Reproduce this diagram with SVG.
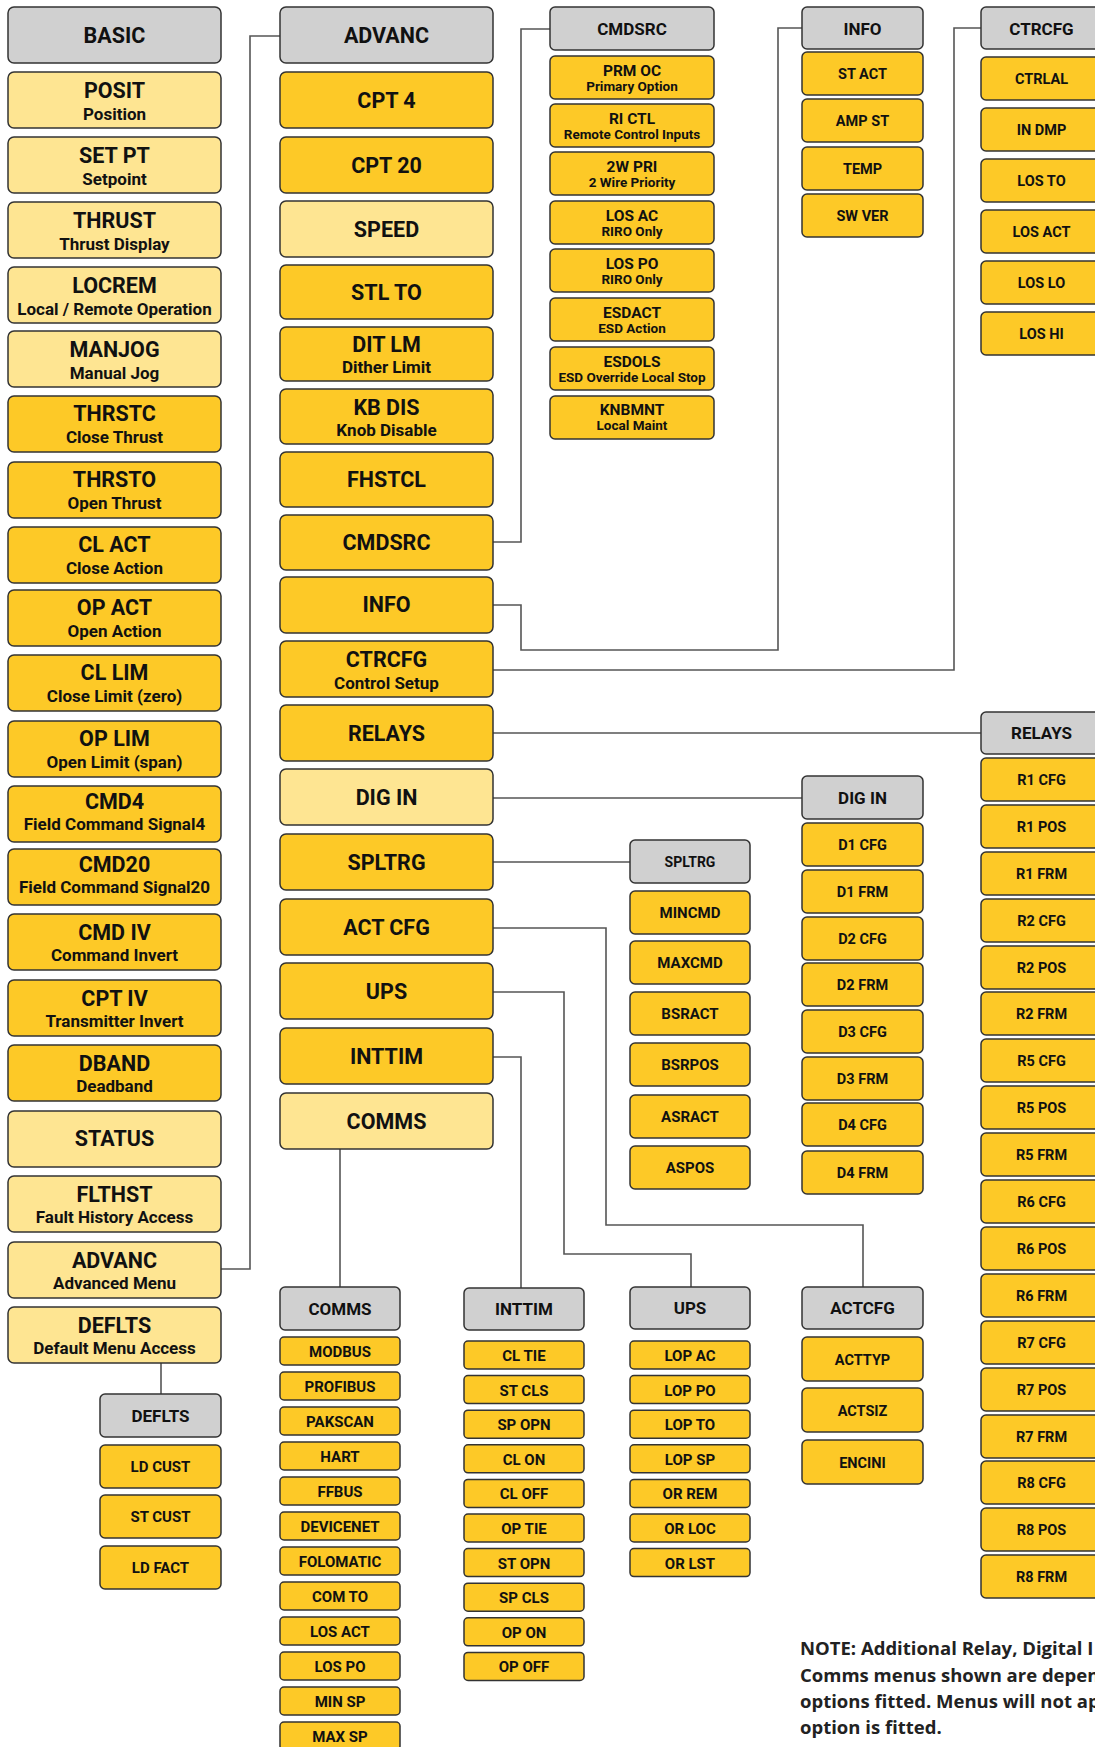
<svg xmlns="http://www.w3.org/2000/svg" width="1095" height="1747" viewBox="0 0 1095 1747">
<style>
rect{stroke:#333;stroke-width:1.5}
.g{fill:#d0d0d0}.d{fill:#fdc927}.l{fill:#fee592}
text{font-family:Roboto,"Liberation Sans",sans-serif;font-weight:bold;fill:#111;text-anchor:middle}
.m{font-size:21.5px}.s{font-size:17px}.h{font-size:17px}.i{font-size:14.5px}.c{font-size:15px}.p{font-size:15.5px}.q{font-size:13.5px}.k{font-size:14px}
.note{font-family:"Open Sans",Roboto,sans-serif;font-size:18.5px;text-anchor:start;fill:#222}
#connectors path{fill:none;stroke:#555;stroke-width:1.6}
</style>
<g id="connectors">
<path d="M221,1269 H250 V36 H280"/>
<path d="M493,542 H521 V29 H550"/>
<path d="M493,605 H521 V650 H778 V28 H802"/>
<path d="M493,670 H954 V28 H981"/>
<path d="M493,733 H981"/>
<path d="M493,798 H802"/>
<path d="M493,862 H630"/>
<path d="M493,928 H606 V1225 H863 V1287"/>
<path d="M493,992 H564 V1254 H691 V1287"/>
<path d="M493,1057 H521 V1288"/>
<path d="M340,1149 V1287"/>
<path d="M161,1363 V1394"/>
</g>
<!-- BASIC column -->
<g id="basic"><rect class="g" x="8" y="7" width="213" height="56" rx="6"/><text class="m" x="114.5" y="42.5">BASIC</text></g>
<g id="posit"><rect class="l" x="8" y="72" width="213" height="56" rx="6"/><text class="m" x="114.5" y="98">POSIT</text><text class="s" x="114.5" y="119.5">Position</text></g>
<g id="setpt"><rect class="l" x="8" y="137" width="213" height="56" rx="6"/><text class="m" x="114.5" y="163">SET PT</text><text class="s" x="114.5" y="184.5">Setpoint</text></g>
<g id="thrust"><rect class="l" x="8" y="202" width="213" height="56" rx="6"/><text class="m" x="114.5" y="228">THRUST</text><text class="s" x="114.5" y="249.5">Thrust Display</text></g>
<g id="locrem"><rect class="l" x="8" y="267" width="213" height="56" rx="6"/><text class="m" x="114.5" y="293">LOCREM</text><text class="s" x="114.5" y="314.5">Local / Remote Operation</text></g>
<g id="manjog"><rect class="l" x="8" y="331" width="213" height="56" rx="6"/><text class="m" x="114.5" y="357">MANJOG</text><text class="s" x="114.5" y="378.5">Manual Jog</text></g>
<g id="thrstc"><rect class="d" x="8" y="396" width="213" height="56" rx="6"/><text class="m" x="114.5" y="421">THRSTC</text><text class="s" x="114.5" y="442.5">Close Thrust</text></g>
<g id="thrsto"><rect class="d" x="8" y="462" width="213" height="56" rx="6"/><text class="m" x="114.5" y="487">THRSTO</text><text class="s" x="114.5" y="508.5">Open Thrust</text></g>
<g id="clact"><rect class="d" x="8" y="527" width="213" height="56" rx="6"/><text class="m" x="114.5" y="552">CL ACT</text><text class="s" x="114.5" y="573.5">Close Action</text></g>
<g id="opact"><rect class="d" x="8" y="590" width="213" height="56" rx="6"/><text class="m" x="114.5" y="615">OP ACT</text><text class="s" x="114.5" y="636.5">Open Action</text></g>
<g id="cllim"><rect class="d" x="8" y="655" width="213" height="56" rx="6"/><text class="m" x="114.5" y="680">CL LIM</text><text class="s" x="114.5" y="701.5">Close Limit (zero)</text></g>
<g id="oplim"><rect class="d" x="8" y="721" width="213" height="56" rx="6"/><text class="m" x="114.5" y="746">OP LIM</text><text class="s" x="114.5" y="767.5">Open Limit (span)</text></g>
<g id="cmd4"><rect class="d" x="8" y="786" width="213" height="56" rx="6"/><text class="m" x="114.5" y="809">CMD4</text><text class="s" x="114.5" y="830">Field Command Signal4</text></g>
<g id="cmd20"><rect class="d" x="8" y="849" width="213" height="56" rx="6"/><text class="m" x="114.5" y="872">CMD20</text><text class="s" x="114.5" y="893">Field Command Signal20</text></g>
<g id="cmdiv"><rect class="d" x="8" y="914" width="213" height="56" rx="6"/><text class="m" x="114.5" y="939.5">CMD IV</text><text class="s" x="114.5" y="961">Command Invert</text></g>
<g id="cptiv"><rect class="d" x="8" y="980" width="213" height="56" rx="6"/><text class="m" x="114.5" y="1005.5">CPT IV</text><text class="s" x="114.5" y="1027">Transmitter Invert</text></g>
<g id="dband"><rect class="d" x="8" y="1045" width="213" height="56" rx="6"/><text class="m" x="114.5" y="1070.5">DBAND</text><text class="s" x="114.5" y="1092">Deadband</text></g>
<g id="status"><rect class="l" x="8" y="1111" width="213" height="56" rx="6"/><text class="m" x="114.5" y="1146">STATUS</text></g>
<g id="flthst"><rect class="l" x="8" y="1176" width="213" height="56" rx="6"/><text class="m" x="114.5" y="1201.5">FLTHST</text><text class="s" x="114.5" y="1223">Fault History Access</text></g>
<g id="advanc-b"><rect class="l" x="8" y="1242" width="213" height="56" rx="6"/><text class="m" x="114.5" y="1267.5">ADVANC</text><text class="s" x="114.5" y="1289">Advanced Menu</text></g>
<g id="deflts-b"><rect class="l" x="8" y="1307" width="213" height="56" rx="6"/><text class="m" x="114.5" y="1332.5">DEFLTS</text><text class="s" x="114.5" y="1354">Default Menu Access</text></g>
<!-- ADVANC column -->
<g id="advanc"><rect class="g" x="280" y="7" width="213" height="56" rx="6"/><text class="m" x="386.5" y="42.5">ADVANC</text></g>
<g id="cpt4"><rect class="d" x="280" y="72" width="213" height="56" rx="6"/><text class="m" x="386.5" y="107.5">CPT 4</text></g>
<g id="cpt20"><rect class="d" x="280" y="137" width="213" height="56" rx="6"/><text class="m" x="386.5" y="172.5">CPT 20</text></g>
<g id="speed"><rect class="l" x="280" y="201" width="213" height="56" rx="6"/><text class="m" x="386.5" y="236.5">SPEED</text></g>
<g id="stlto"><rect class="d" x="280" y="265" width="213" height="54" rx="6"/><text class="m" x="386.5" y="299.5">STL TO</text></g>
<g id="ditlm"><rect class="d" x="280" y="327" width="213" height="54" rx="6"/><text class="m" x="386.5" y="352">DIT LM</text><text class="s" x="386.5" y="373">Dither Limit</text></g>
<g id="kbdis"><rect class="d" x="280" y="389" width="213" height="55" rx="6"/><text class="m" x="386.5" y="415">KB DIS</text><text class="s" x="386.5" y="436">Knob Disable</text></g>
<g id="fhstcl"><rect class="d" x="280" y="452" width="213" height="55" rx="6"/><text class="m" x="386.5" y="487">FHSTCL</text></g>
<g id="cmdsrc-a"><rect class="d" x="280" y="515" width="213" height="55" rx="6"/><text class="m" x="386.5" y="550">CMDSRC</text></g>
<g id="info-a"><rect class="d" x="280" y="577" width="213" height="56" rx="6"/><text class="m" x="386.5" y="612">INFO</text></g>
<g id="ctrcfg-a"><rect class="d" x="280" y="641" width="213" height="56" rx="6"/><text class="m" x="386.5" y="667">CTRCFG</text><text class="s" x="386.5" y="689">Control Setup</text></g>
<g id="relays-a"><rect class="d" x="280" y="705" width="213" height="56" rx="6"/><text class="m" x="386.5" y="741">RELAYS</text></g>
<g id="digin-a"><rect class="l" x="280" y="769" width="213" height="56" rx="6"/><text class="m" x="386.5" y="805">DIG IN</text></g>
<g id="spltrg-a"><rect class="d" x="280" y="834" width="213" height="56" rx="6"/><text class="m" x="386.5" y="870">SPLTRG</text></g>
<g id="actcfg-a"><rect class="d" x="280" y="899" width="213" height="56" rx="6"/><text class="m" x="386.5" y="935">ACT CFG</text></g>
<g id="ups-a"><rect class="d" x="280" y="963" width="213" height="56" rx="6"/><text class="m" x="386.5" y="999">UPS</text></g>
<g id="inttim-a"><rect class="d" x="280" y="1028" width="213" height="56" rx="6"/><text class="m" x="386.5" y="1064">INTTIM</text></g>
<g id="comms-a"><rect class="l" x="280" y="1093" width="213" height="56" rx="6"/><text class="m" x="386.5" y="1129">COMMS</text></g>
<!-- CMDSRC column -->
<g id="cmdsrc"><rect class="g" x="550" y="7" width="164" height="43" rx="5"/><text class="h" x="632" y="35">CMDSRC</text></g>
<g id="prmoc"><rect class="d" x="550" y="56" width="164" height="43" rx="5"/><text class="p" x="632" y="75.5">PRM OC</text><text class="q" x="632" y="90.5">Primary Option</text></g>
<g id="rictl"><rect class="d" x="550" y="104" width="164" height="43" rx="5"/><text class="p" x="632" y="123.5">RI CTL</text><text class="q" x="632" y="138.5">Remote Control Inputs</text></g>
<g id="2wpri"><rect class="d" x="550" y="152" width="164" height="43" rx="5"/><text class="p" x="632" y="171.5">2W PRI</text><text class="q" x="632" y="186.5">2 Wire Priority</text></g>
<g id="losac"><rect class="d" x="550" y="201" width="164" height="43" rx="5"/><text class="p" x="632" y="220.5">LOS AC</text><text class="q" x="632" y="235.5">RIRO Only</text></g>
<g id="lospo"><rect class="d" x="550" y="249" width="164" height="43" rx="5"/><text class="p" x="632" y="268.5">LOS PO</text><text class="q" x="632" y="283.5">RIRO Only</text></g>
<g id="esdact"><rect class="d" x="550" y="298" width="164" height="43" rx="5"/><text class="p" x="632" y="317.5">ESDACT</text><text class="q" x="632" y="332.5">ESD Action</text></g>
<g id="esdols"><rect class="d" x="550" y="347" width="164" height="43" rx="5"/><text class="p" x="632" y="366.5">ESDOLS</text><text class="q" x="632" y="381.5">ESD Override Local Stop</text></g>
<g id="knbmnt"><rect class="d" x="550" y="396" width="164" height="43" rx="5"/><text class="p" x="632" y="415">KNBMNT</text><text class="q" x="632" y="430">Local Maint</text></g>
<!-- INFO column -->
<g id="info"><rect class="g" x="802" y="7" width="121" height="42" rx="5"/><text class="h" x="862.5" y="34.5">INFO</text></g>
<g id="stact"><rect class="d" x="802" y="52" width="121" height="43" rx="5"/><text class="i" x="862.5" y="79">ST ACT</text></g>
<g id="ampst"><rect class="d" x="802" y="99" width="121" height="43" rx="5"/><text class="i" x="862.5" y="126">AMP ST</text></g>
<g id="temp"><rect class="d" x="802" y="147" width="121" height="43" rx="5"/><text class="i" x="862.5" y="174">TEMP</text></g>
<g id="swver"><rect class="d" x="802" y="194" width="121" height="43" rx="5"/><text class="i" x="862.5" y="221">SW VER</text></g>
<!-- CTRCFG column -->
<g id="ctrcfg"><rect class="g" x="981" y="7" width="121" height="42" rx="5"/><text class="h" x="1041.5" y="34.5">CTRCFG</text></g>
<g id="ctrlal"><rect class="d" x="981" y="57" width="121" height="43" rx="5"/><text class="i" x="1041.5" y="84">CTRLAL</text></g>
<g id="indmp"><rect class="d" x="981" y="108" width="121" height="43" rx="5"/><text class="i" x="1041.5" y="135">IN DMP</text></g>
<g id="losto"><rect class="d" x="981" y="159" width="121" height="43" rx="5"/><text class="i" x="1041.5" y="186">LOS TO</text></g>
<g id="losact"><rect class="d" x="981" y="210" width="121" height="43" rx="5"/><text class="i" x="1041.5" y="237">LOS ACT</text></g>
<g id="loslo"><rect class="d" x="981" y="261" width="121" height="43" rx="5"/><text class="i" x="1041.5" y="288">LOS LO</text></g>
<g id="loshi"><rect class="d" x="981" y="312" width="121" height="43" rx="5"/><text class="i" x="1041.5" y="339">LOS HI</text></g>
<!-- RELAYS column -->
<g id="relays"><rect class="g" x="981" y="712" width="121" height="42" rx="5"/><text class="h" x="1041.5" y="739">RELAYS</text></g>
<g id="r1cfg"><rect class="d" x="981" y="758" width="121" height="43" rx="5"/><text class="i" x="1041.5" y="785">R1 CFG</text></g>
<g id="r1pos"><rect class="d" x="981" y="805" width="121" height="43" rx="5"/><text class="i" x="1041.5" y="832">R1 POS</text></g>
<g id="r1frm"><rect class="d" x="981" y="852" width="121" height="43" rx="5"/><text class="i" x="1041.5" y="879">R1 FRM</text></g>
<g id="r2cfg"><rect class="d" x="981" y="899" width="121" height="43" rx="5"/><text class="i" x="1041.5" y="926">R2 CFG</text></g>
<g id="r2pos"><rect class="d" x="981" y="946" width="121" height="43" rx="5"/><text class="i" x="1041.5" y="973">R2 POS</text></g>
<g id="r2frm"><rect class="d" x="981" y="992" width="121" height="43" rx="5"/><text class="i" x="1041.5" y="1019">R2 FRM</text></g>
<g id="r5cfg"><rect class="d" x="981" y="1039" width="121" height="43" rx="5"/><text class="i" x="1041.5" y="1066">R5 CFG</text></g>
<g id="r5pos"><rect class="d" x="981" y="1086" width="121" height="43" rx="5"/><text class="i" x="1041.5" y="1113">R5 POS</text></g>
<g id="r5frm"><rect class="d" x="981" y="1133" width="121" height="43" rx="5"/><text class="i" x="1041.5" y="1160">R5 FRM</text></g>
<g id="r6cfg"><rect class="d" x="981" y="1180" width="121" height="43" rx="5"/><text class="i" x="1041.5" y="1207">R6 CFG</text></g>
<g id="r6pos"><rect class="d" x="981" y="1227" width="121" height="43" rx="5"/><text class="i" x="1041.5" y="1254">R6 POS</text></g>
<g id="r6frm"><rect class="d" x="981" y="1274" width="121" height="43" rx="5"/><text class="i" x="1041.5" y="1301">R6 FRM</text></g>
<g id="r7cfg"><rect class="d" x="981" y="1321" width="121" height="43" rx="5"/><text class="i" x="1041.5" y="1348">R7 CFG</text></g>
<g id="r7pos"><rect class="d" x="981" y="1368" width="121" height="43" rx="5"/><text class="i" x="1041.5" y="1395">R7 POS</text></g>
<g id="r7frm"><rect class="d" x="981" y="1415" width="121" height="43" rx="5"/><text class="i" x="1041.5" y="1442">R7 FRM</text></g>
<g id="r8cfg"><rect class="d" x="981" y="1461" width="121" height="43" rx="5"/><text class="i" x="1041.5" y="1488">R8 CFG</text></g>
<g id="r8pos"><rect class="d" x="981" y="1508" width="121" height="43" rx="5"/><text class="i" x="1041.5" y="1535">R8 POS</text></g>
<g id="r8frm"><rect class="d" x="981" y="1555" width="121" height="43" rx="5"/><text class="i" x="1041.5" y="1582">R8 FRM</text></g>
<!-- DIG IN column -->
<g id="digin"><rect class="g" x="802" y="776" width="121" height="43" rx="5"/><text class="h" x="862.5" y="803.5">DIG IN</text></g>
<g id="d1cfg"><rect class="d" x="802" y="823" width="121" height="43" rx="5"/><text class="i" x="862.5" y="850">D1 CFG</text></g>
<g id="d1frm"><rect class="d" x="802" y="870" width="121" height="43" rx="5"/><text class="i" x="862.5" y="897">D1 FRM</text></g>
<g id="d2cfg"><rect class="d" x="802" y="917" width="121" height="43" rx="5"/><text class="i" x="862.5" y="944">D2 CFG</text></g>
<g id="d2frm"><rect class="d" x="802" y="963" width="121" height="43" rx="5"/><text class="i" x="862.5" y="990">D2 FRM</text></g>
<g id="d3cfg"><rect class="d" x="802" y="1010" width="121" height="43" rx="5"/><text class="i" x="862.5" y="1037">D3 CFG</text></g>
<g id="d3frm"><rect class="d" x="802" y="1057" width="121" height="43" rx="5"/><text class="i" x="862.5" y="1084">D3 FRM</text></g>
<g id="d4cfg"><rect class="d" x="802" y="1103" width="121" height="43" rx="5"/><text class="i" x="862.5" y="1130">D4 CFG</text></g>
<g id="d4frm"><rect class="d" x="802" y="1151" width="121" height="43" rx="5"/><text class="i" x="862.5" y="1178">D4 FRM</text></g>
<!-- SPLTRG column -->
<g id="spltrg"><rect class="g" x="630" y="840" width="120" height="43" rx="5"/><text class="k" x="690" y="866.5">SPLTRG</text></g>
<g id="mincmd"><rect class="d" x="630" y="891" width="120" height="43" rx="5"/><text class="c" x="690" y="918">MINCMD</text></g>
<g id="maxcmd"><rect class="d" x="630" y="941" width="120" height="43" rx="5"/><text class="c" x="690" y="968">MAXCMD</text></g>
<g id="bsract"><rect class="d" x="630" y="992" width="120" height="43" rx="5"/><text class="c" x="690" y="1019">BSRACT</text></g>
<g id="bsrpos"><rect class="d" x="630" y="1043" width="120" height="43" rx="5"/><text class="c" x="690" y="1070">BSRPOS</text></g>
<g id="asract"><rect class="d" x="630" y="1095" width="120" height="43" rx="5"/><text class="c" x="690" y="1122">ASRACT</text></g>
<g id="aspos"><rect class="d" x="630" y="1146" width="120" height="43" rx="5"/><text class="c" x="690" y="1173">ASPOS</text></g>
<!-- COMMS column -->
<g id="comms"><rect class="g" x="280" y="1287" width="120" height="43" rx="5"/><text class="h" x="340" y="1314.5">COMMS</text></g>
<g id="modbus"><rect class="d" x="280" y="1337" width="120" height="28" rx="4"/><text class="c" x="340" y="1357">MODBUS</text></g>
<g id="profibus"><rect class="d" x="280" y="1372" width="120" height="28" rx="4"/><text class="c" x="340" y="1392">PROFIBUS</text></g>
<g id="pakscan"><rect class="d" x="280" y="1407" width="120" height="28" rx="4"/><text class="c" x="340" y="1427">PAKSCAN</text></g>
<g id="hart"><rect class="d" x="280" y="1442" width="120" height="28" rx="4"/><text class="c" x="340" y="1462">HART</text></g>
<g id="ffbus"><rect class="d" x="280" y="1477" width="120" height="28" rx="4"/><text class="c" x="340" y="1497">FFBUS</text></g>
<g id="devicenet"><rect class="d" x="280" y="1512" width="120" height="28" rx="4"/><text class="c" x="340" y="1532">DEVICENET</text></g>
<g id="folomatic"><rect class="d" x="280" y="1547" width="120" height="28" rx="4"/><text class="c" x="340" y="1567">FOLOMATIC</text></g>
<g id="comto"><rect class="d" x="280" y="1582" width="120" height="28" rx="4"/><text class="c" x="340" y="1602">COM TO</text></g>
<g id="losact-c"><rect class="d" x="280" y="1617" width="120" height="28" rx="4"/><text class="c" x="340" y="1637">LOS ACT</text></g>
<g id="lospo-c"><rect class="d" x="280" y="1652" width="120" height="28" rx="4"/><text class="c" x="340" y="1672">LOS PO</text></g>
<g id="minsp"><rect class="d" x="280" y="1687" width="120" height="28" rx="4"/><text class="c" x="340" y="1707">MIN SP</text></g>
<g id="maxsp"><rect class="d" x="280" y="1722" width="120" height="28" rx="4"/><text class="c" x="340" y="1742">MAX SP</text></g>
<!-- INTTIM column -->
<g id="inttim"><rect class="g" x="464" y="1288" width="120" height="42" rx="5"/><text class="h" x="524" y="1315">INTTIM</text></g>
<g id="cltie"><rect class="d" x="464" y="1341" width="120" height="28" rx="4"/><text class="c" x="524" y="1361">CL TIE</text></g>
<g id="stcls"><rect class="d" x="464" y="1375.6" width="120" height="28" rx="4"/><text class="c" x="524" y="1395.6">ST CLS</text></g>
<g id="spopn"><rect class="d" x="464" y="1410.2" width="120" height="28" rx="4"/><text class="c" x="524" y="1430.2">SP OPN</text></g>
<g id="clon"><rect class="d" x="464" y="1444.8" width="120" height="28" rx="4"/><text class="c" x="524" y="1464.8">CL ON</text></g>
<g id="cloff"><rect class="d" x="464" y="1479.4" width="120" height="28" rx="4"/><text class="c" x="524" y="1499.4">CL OFF</text></g>
<g id="optie"><rect class="d" x="464" y="1514" width="120" height="28" rx="4"/><text class="c" x="524" y="1534">OP TIE</text></g>
<g id="stopn"><rect class="d" x="464" y="1548.6" width="120" height="28" rx="4"/><text class="c" x="524" y="1568.6">ST OPN</text></g>
<g id="spcls"><rect class="d" x="464" y="1583.2" width="120" height="28" rx="4"/><text class="c" x="524" y="1603.2">SP CLS</text></g>
<g id="opon"><rect class="d" x="464" y="1617.8" width="120" height="28" rx="4"/><text class="c" x="524" y="1637.8">OP ON</text></g>
<g id="opoff"><rect class="d" x="464" y="1652.4" width="120" height="28" rx="4"/><text class="c" x="524" y="1672.4">OP OFF</text></g>
<!-- UPS column -->
<g id="ups"><rect class="g" x="630" y="1287" width="120" height="42" rx="5"/><text class="h" x="690" y="1314">UPS</text></g>
<g id="lopac"><rect class="d" x="630" y="1341" width="120" height="28" rx="4"/><text class="c" x="690" y="1361">LOP AC</text></g>
<g id="loppo"><rect class="d" x="630" y="1375.6" width="120" height="28" rx="4"/><text class="c" x="690" y="1395.6">LOP PO</text></g>
<g id="lopto"><rect class="d" x="630" y="1410.2" width="120" height="28" rx="4"/><text class="c" x="690" y="1430.2">LOP TO</text></g>
<g id="lopsp"><rect class="d" x="630" y="1444.8" width="120" height="28" rx="4"/><text class="c" x="690" y="1464.8">LOP SP</text></g>
<g id="orrem"><rect class="d" x="630" y="1479.4" width="120" height="28" rx="4"/><text class="c" x="690" y="1499.4">OR REM</text></g>
<g id="orloc"><rect class="d" x="630" y="1514" width="120" height="28" rx="4"/><text class="c" x="690" y="1534">OR LOC</text></g>
<g id="orlst"><rect class="d" x="630" y="1548.6" width="120" height="28" rx="4"/><text class="c" x="690" y="1568.6">OR LST</text></g>
<!-- ACTCFG column -->
<g id="actcfg"><rect class="g" x="802" y="1287" width="121" height="42" rx="5"/><text class="h" x="862.5" y="1314">ACTCFG</text></g>
<g id="acttyp"><rect class="d" x="802" y="1337" width="121" height="44" rx="5"/><text class="i" x="862.5" y="1364.5">ACTTYP</text></g>
<g id="actsiz"><rect class="d" x="802" y="1388" width="121" height="44" rx="5"/><text class="i" x="862.5" y="1415.5">ACTSIZ</text></g>
<g id="encini"><rect class="d" x="802" y="1440" width="121" height="44" rx="5"/><text class="i" x="862.5" y="1467.5">ENCINI</text></g>
<!-- DEFLTS column -->
<g id="deflts"><rect class="g" x="100" y="1394" width="121" height="43" rx="5"/><text class="h" x="160.5" y="1421.5">DEFLTS</text></g>
<g id="ldcust"><rect class="d" x="100" y="1445" width="121" height="43" rx="5"/><text class="c" x="160.5" y="1472">LD CUST</text></g>
<g id="stcust"><rect class="d" x="100" y="1495" width="121" height="43" rx="5"/><text class="c" x="160.5" y="1522">ST CUST</text></g>
<g id="ldfact"><rect class="d" x="100" y="1546" width="121" height="43" rx="5"/><text class="c" x="160.5" y="1573">LD FACT</text></g>
<!-- Note -->
<g id="note">
<text class="note" x="800" y="1655">NOTE: Additional Relay, Digital I</text>
<text class="note" x="800" y="1682">Comms menus shown are depen</text>
<text class="note" x="800" y="1708">options fitted. Menus will not ap</text>
<text class="note" x="800" y="1734">option is fitted.</text>
</g>
</svg>
